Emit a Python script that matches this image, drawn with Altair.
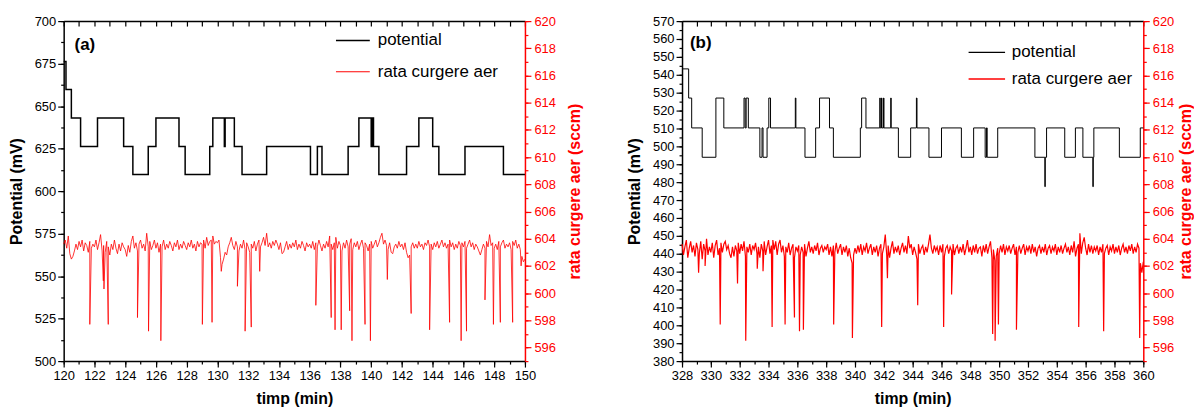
import altair as alt
import pandas as pd

# ---------------- panel (a) ----------------
pot_a_t = [120.0, 120.15, 120.5, 121.1, 122.2, 123.9, 124.5, 125.5, 126.0, 127.5,
           127.9, 129.5, 129.7, 130.45, 130.5, 131.1, 131.6, 133.2, 136.05, 136.5,
           136.8, 138.5, 139.2, 140.0, 140.07, 140.15, 140.5, 142.3, 143.1, 144.0,
           144.4, 146.1, 148.6, 150.0]
pot_a_v = [676.3, 659.7, 643.0, 626.3, 643.0, 626.3, 609.7, 626.3, 643.0, 626.3,
           609.7, 626.3, 643.0, 626.3, 643.0, 626.3, 609.7, 626.3, 609.7, 626.3,
           609.7, 626.3, 643.0, 626.3, 643.0, 626.3, 609.7, 626.3, 643.0, 626.3,
           609.7, 626.3, 609.7, 609.7]

flow_a_t0 = 120.0
flow_a_noise = [
    603.6, 603.9, 603.3, 604.2, 602.9, 602.5, 602.7, 603.1, 603.6, 603.2,
    603.8, 603.4, 603.9, 603.1, 603.7, 603.5, 603.0, 603.8, 603.3, 603.6,
    603.4, 603.9, 603.2, 603.7, 604.3, 603.1, 603.5, 603.0, 603.8, 603.4,
    602.8, 603.6, 603.2, 603.9, 603.3, 602.9, 603.6, 603.1, 603.7, 603.4,
    603.2, 602.7, 603.5, 603.0, 603.8, 604.2, 603.3, 603.7, 603.1, 603.6,
    603.9, 603.3, 603.6, 603.1, 604.4, 603.4, 603.8, 603.2, 603.5, 603.9,
    603.3, 603.7, 603.0, 603.6, 603.4, 603.9, 603.2, 603.6, 603.3, 603.8,
    603.5, 603.1, 603.7, 603.4, 603.9, 603.2, 603.6, 603.3, 603.8, 603.5,
    603.2, 603.7, 603.4, 603.9, 603.3, 603.6, 603.1, 603.8, 603.4, 603.7,
    603.6, 603.9, 603.3, 604.1, 603.5, 603.8, 603.9, 604.2, 603.6, 603.8,
    603.7, 603.9, 602.6, 602.1, 602.5, 603.0, 602.8, 603.4, 603.7, 604.1,
    603.5, 603.2, 603.8, 603.4, 603.1, 603.6, 603.3, 603.9, 603.2, 603.7,
    603.4, 603.0, 603.6, 603.3, 603.8, 603.1, 603.6, 603.9, 603.4, 603.7,
    604.1, 603.5, 604.4, 603.4, 603.7, 603.3, 603.8, 603.5, 603.9, 603.6,
    603.2, 603.7, 602.9, 603.0, 603.4, 603.8, 603.2, 603.6, 603.3, 603.7,
    603.4, 603.9, 603.2, 603.6, 603.3, 603.8, 603.5, 603.1, 603.7, 603.4,
    603.6, 603.3, 603.8, 603.2, 603.7, 603.4, 603.9, 603.5, 603.1, 603.6,
    603.3, 603.8, 603.4, 604.2, 603.6, 603.2, 603.7, 604.1, 603.3, 603.8,
    603.5, 603.1, 603.7, 603.3, 603.9, 603.4, 603.6, 604.0, 603.2, 603.7,
    603.4, 603.8, 603.2, 603.6, 603.9, 603.3, 603.7, 603.5, 603.1, 603.6,
    603.8, 603.3, 603.6, 603.9, 603.4, 603.7, 604.1, 604.4, 603.6, 603.9,
    603.5, 603.2, 603.7, 603.0, 602.9, 603.4, 603.6, 603.3, 603.8, 603.4,
    603.6, 603.2, 603.7, 603.0, 602.6, 602.8, 603.4, 603.7, 603.3, 603.6,
    603.3, 603.8, 603.4, 603.6, 603.2, 603.7, 603.5, 603.9, 603.4, 603.6,
    603.2, 603.7, 603.4, 603.8, 603.3, 603.6, 603.9, 603.4, 603.7, 603.3,
    603.6, 603.9, 603.4, 603.7, 603.2, 603.6, 603.3, 603.8, 603.5, 603.7,
    603.4, 603.8, 603.3, 603.6, 603.9, 603.4, 603.7, 603.2, 603.6, 603.4,
    603.1, 602.8, 603.2, 603.6, 603.3, 603.8, 603.4, 604.3, 603.5, 603.7,
    603.3, 603.6, 603.2, 603.8, 603.4, 603.7, 603.9, 603.3, 603.6, 603.4,
    603.7, 603.2, 603.8, 603.5, 603.9, 603.3, 603.6, 603.2, 602.7, 602.3,
    602.5]
spike_a_t = [121.7, 122.58, 122.62, 122.9, 124.8, 125.52, 126.32, 129.02, 129.65, 130.25,
             131.3, 131.8, 132.2, 132.75, 136.4, 137.4, 137.65, 138.05, 138.6, 138.75,
             139.6, 139.95, 141.05, 142.6, 143.8, 145.1, 145.85, 146.2, 147.4, 147.95,
             148.4, 149.2, 149.75]
spike_a_v = [597.7, 600.9, 600.3, 597.7, 598.2, 597.2, 596.5, 597.7, 597.85, 601.6,
             600.5, 597.2, 597.5, 601.6, 599.1, 598.2, 597.3, 597.3, 598.7, 596.5,
             597.7, 596.5, 601.0, 598.5, 597.3, 597.85, 596.5, 597.2, 599.5, 597.7,
             597.85, 597.85, 602.0]

# legend rows of panel (a), in data units (time / potential)
leg_a_x1 = [137.71, 137.71]
leg_a_x2 = [139.91, 139.91]
leg_a_tx = [140.43, 140.43]
leg_a_y = [688.6, 670.2]

# ---------------- panel (b) ----------------
pot_b_t = [328.0, 328.46, 328.67, 329.4, 330.35, 330.9, 332.3, 332.38, 332.45, 332.6,
           333.4, 333.55, 333.62, 333.9, 334.02, 334.14, 335.86, 335.9, 336.53, 337.27,
           337.54, 338.23, 338.5, 340.37, 340.46, 340.76, 341.72, 341.75, 341.84, 341.87,
           341.98, 342.01, 342.48, 342.51, 343.01, 343.86, 344.26, 344.3, 345.13, 346.0,
           347.38, 348.23, 349.03, 349.12, 349.17, 349.9, 352.48, 353.17, 353.2, 353.29,
           354.55, 355.29, 355.81, 356.5, 356.53, 356.57, 358.34, 359.79, 360.0]
pot_b_v = [543.3, 527.0, 510.3, 493.9, 527.0, 510.3, 527.0, 510.3, 527.0, 510.3,
           493.9, 510.3, 493.9, 510.3, 527.0, 510.3, 527.0, 510.3, 493.9, 510.3,
           527.0, 510.3, 493.9, 510.3, 527.0, 510.3, 527.0, 510.3, 527.0, 510.3,
           527.0, 510.3, 527.0, 510.3, 493.9, 510.3, 527.0, 510.3, 493.9, 510.3,
           493.9, 510.3, 493.9, 510.3, 493.9, 510.3, 493.9, 477.5, 493.9, 510.3,
           493.9, 510.3, 493.9, 477.5, 493.9, 510.3, 493.9, 510.3, 510.3]

flow_b_t0 = 328.0
flow_b_noise = [
    603.6, 602.8, 603.4, 603.9, 602.6, 603.3, 603.8, 603.0, 603.5, 602.7,
    603.7, 603.2, 602.9, 603.8, 602.5, 603.6, 603.1, 604.0, 602.8, 603.4,
    603.0, 603.7, 602.6, 603.5, 603.9, 602.8, 603.3, 603.7, 603.0, 603.6,
    603.8, 603.2, 603.5, 602.9, 602.6, 603.4, 602.7, 603.5, 603.1, 603.7,
    602.9, 603.6, 603.1, 603.8, 602.7, 603.4, 603.0, 603.6, 602.8, 603.5,
    603.2, 603.7, 602.9, 603.4, 602.6, 603.6, 603.1, 603.8, 602.8, 603.4,
    603.9, 602.9, 603.5, 603.9, 603.2, 603.8, 602.8, 603.6, 603.9, 603.0,
    603.5, 602.7, 603.4, 603.0, 603.7, 602.8, 603.3, 603.6, 602.6, 603.4,
    603.1, 603.5, 602.8, 603.4, 603.0, 603.6, 602.7, 603.3, 603.8, 603.0,
    603.4, 602.9, 603.5, 603.1, 603.7, 602.8, 603.3, 603.5, 603.0, 603.4,
    603.2, 603.6, 602.8, 603.4, 602.7, 603.5, 603.0, 603.7, 602.9, 603.3,
    603.6, 602.8, 603.4, 603.0, 603.5, 602.7, 603.3, 602.6, 602.2, 602.8,
    603.3, 602.9, 603.5, 603.0, 603.6, 602.8, 603.4, 603.1, 603.7, 602.9,
    603.3, 603.6, 602.8, 603.4, 603.0, 603.5, 602.7, 603.3, 603.6, 602.9,
    603.4, 604.3, 602.8, 603.5, 602.6, 603.3, 603.8, 602.9, 603.4, 603.0,
    603.5, 602.8, 603.3, 603.7, 603.0, 603.5, 602.9, 604.2, 603.3, 603.6,
    602.8, 603.4, 603.0, 602.5, 603.6, 602.9, 603.3, 603.5, 602.8, 603.4,
    603.0, 603.6, 604.3, 603.3, 602.9, 603.5, 603.1, 603.4, 602.8, 603.5,
    603.0, 603.6, 602.7, 603.3, 603.5, 602.9, 603.4, 603.1, 603.6, 602.8,
    603.3, 603.5, 602.9, 603.4, 603.0, 603.6, 602.8, 603.3, 603.9, 603.0,
    603.4, 602.8, 603.5, 603.0, 603.6, 602.9, 603.3, 603.4, 602.7, 603.5,
    603.0, 603.6, 602.9, 603.4, 603.8, 602.6, 603.2, 602.4, 602.7, 603.3,
    602.9, 603.5, 603.0, 603.6, 602.8, 603.4, 603.1, 603.5, 602.9, 603.3,
    603.6, 602.8, 603.4, 603.0, 603.5, 602.9, 603.3, 603.6, 602.8, 603.4,
    603.1, 603.5, 602.9, 603.6, 603.0, 603.4, 602.7, 603.3, 603.5, 602.9,
    603.4, 603.0, 603.6, 602.8, 603.3, 603.5, 602.9, 603.4, 603.1, 603.6,
    602.8, 603.4, 603.0, 603.5, 602.9, 603.3, 603.6, 603.0, 603.4, 602.8,
    603.5, 603.0, 603.8, 602.7, 603.3, 603.6, 604.4, 602.9, 603.7, 604.1,
    603.3, 602.8, 603.6, 603.0, 603.5, 602.9, 603.4, 603.1, 603.5, 602.8,
    603.4, 603.0, 603.6, 602.9, 603.3, 603.5, 602.8, 603.4, 603.1, 603.6,
    602.9, 603.4, 603.0, 603.5, 602.8, 603.3, 603.6, 603.0, 603.4, 602.9,
    603.5, 603.1, 603.6, 602.9, 603.4, 603.0, 603.6, 603.3, 602.2, 601.5,
    602.3]
spike_b_t = [329.15, 329.6, 330.65, 331.85, 332.42, 333.22, 333.62, 334.25, 335.15, 335.8,
             336.15, 336.42, 338.52, 339.82, 341.85, 342.25, 344.35, 346.15, 346.7, 349.55,
             349.72, 349.95, 351.2, 355.52, 357.25, 359.75]
spike_b_v = [601.5, 602.0, 597.7, 600.7, 596.5, 601.8, 601.6, 597.5, 597.7, 598.2,
             597.2, 597.3, 597.7, 596.7, 597.5, 601.1, 599.1, 597.5, 599.9, 597.0,
             596.5, 597.7, 597.3, 597.5, 597.2, 596.7]

# legend rows of panel (b), in data units (time / potential)
leg_b_x1 = [347.88, 347.88]
leg_b_x2 = [350.41, 350.41]
leg_b_tx = [350.88, 350.88]
leg_b_y = [552.5, 537.7]

SERIES = ["potential", "rata curgere aer"]
FONT = "Liberation Sans"
RED = "#ff0000"
W, H = 464, 342


def axis(**kw):
    base = dict(grid=False, labelFont=FONT, labelFontSize=13, titleFont=FONT,
                titleFontSize=16, titleFontWeight="bold", domainWidth=1.5,
                tickWidth=1.2, labelFlush=False, labelOverlap=False)
    base.update(kw)
    return alt.Axis(**base)


def panel(pot_t, pot_v, t0, noise, spk_t, spk_v, xdom, ydom, ymaj, ymin,
          tag, tag_t, tag_v, lg_x1, lg_x2, lg_tx, lg_y, lg_w, pot_w, flow_w, rtp):
    pot_df = pd.DataFrame({"t": pot_t, "v": pot_v})
    pot_df["series"] = SERIES[0]
    nt = [round(t0 + 0.1 * i, 3) for i in range(len(noise))]
    flow_df = pd.DataFrame({"t": nt + spk_t, "f": noise + spk_v})
    flow_df = flow_df.sort_values("t").reset_index(drop=True)
    flow_df["series"] = SERIES[1]
    leg_df = pd.DataFrame({"series": SERIES, "x1": lg_x1, "x2": lg_x2, "tx": lg_tx,
                           "y": lg_y, "w": lg_w})

    xmaj = list(range(xdom[0], xdom[1] + 1, 2))
    xmin = list(range(xdom[0], xdom[1] + 1, 1))
    fmaj = list(range(596, 621, 2))
    fmin = list(range(595, 621, 1))

    xs = alt.Scale(domain=list(xdom), nice=False, zero=False)
    ps = alt.Scale(domain=list(ydom), nice=False, zero=False)
    fs = alt.Scale(domain=[595, 620], nice=False, zero=False)
    color = alt.Color("series:N",
                      scale=alt.Scale(domain=SERIES, range=["#000000", RED]),
                      legend=None)

    minor_left = alt.Chart(pot_df).mark_line(opacity=0).encode(
        x=alt.X("t:Q", scale=xs, axis=axis(orient="bottom", values=xmin, labels=False,
                                           domain=False, tickSize=3, tickColor="black",
                                           title=None)),
        y=alt.Y("v:Q", scale=ps, axis=axis(orient="left", values=ymin, labels=False,
                                           domain=False, tickSize=3, tickColor="black",
                                           title=None)))
    minor_right = alt.Chart(flow_df).mark_line(opacity=0).encode(
        x=alt.X("t:Q", scale=xs, axis=None),
        y=alt.Y("f:Q", scale=fs, axis=axis(orient="right", values=fmin, labels=False,
                                           domain=False, tickSize=3, tickColor=RED,
                                           title=None)))
    flow_line = alt.Chart(flow_df).mark_line(strokeWidth=flow_w).encode(
        x=alt.X("t:Q", scale=xs, axis=axis(orient="bottom", offset=-H, values=xmin,
                                           labels=False, domain=True, domainColor="black",
                                           tickSize=5, tickColor="black", title=None)),
        y=alt.Y("f:Q", scale=fs, axis=axis(orient="right", values=fmaj, format="d",
                                           tickSize=6, labelPadding=3, tickColor=RED,
                                           domainColor=RED, labelColor=RED,
                                           title="rata curgere aer (sccm)", titleColor=RED,
                                           titleAngle=270, titleBaseline="top",
                                           titlePadding=rtp)),
        color=color)
    pot_line = alt.Chart(pot_df).mark_line(interpolate="step-after", strokeWidth=pot_w).encode(
        x=alt.X("t:Q", scale=xs, axis=axis(orient="bottom", values=xmaj, format="d",
                                           tickSize=6, labelPadding=3, tickColor="black",
                                           domainColor="black", labelColor="black",
                                           title="timp (min)", titleColor="black",
                                           titlePadding=8)),
        y=alt.Y("v:Q", scale=ps, axis=axis(orient="left", values=ymaj, format="d",
                                           tickSize=6, labelPadding=2, tickColor="black",
                                           domainColor="black", labelColor="black",
                                           title="Potential (mV)", titleColor="black",
                                           titlePadding=10)),
        color=color)
    leg_rule = alt.Chart(leg_df).mark_rule().encode(
        x=alt.X("x1:Q", scale=xs, axis=None),
        x2="x2:Q",
        y=alt.Y("y:Q", scale=ps, axis=None),
        color=color,
        strokeWidth=alt.StrokeWidth("w:Q", scale=None, legend=None))
    leg_text = alt.Chart(leg_df).mark_text(align="left", baseline="middle", font=FONT,
                                           fontSize=17, color="black").encode(
        x=alt.X("tx:Q", scale=xs, axis=None),
        y=alt.Y("y:Q", scale=ps, axis=None),
        text="series:N")
    tag_df = pd.DataFrame({"t": [tag_t], "v": [tag_v], "txt": [tag]})
    tag_text = alt.Chart(tag_df).mark_text(align="left", baseline="middle", font=FONT,
                                           fontSize=17, fontWeight="bold",
                                           color="black").encode(
        x=alt.X("t:Q", scale=xs, axis=None),
        y=alt.Y("v:Q", scale=ps, axis=None),
        text="txt:N")

    return alt.layer(minor_left, minor_right, flow_line, pot_line, leg_rule, leg_text,
                     tag_text).resolve_scale(y="independent").resolve_axis(
        x="independent", y="independent").properties(width=W, height=H)


pa = panel(pot_a_t, pot_a_v, flow_a_t0, flow_a_noise, spike_a_t, spike_a_v,
           (120, 150), (500, 700), list(range(500, 701, 25)),
           [500 + 12.5 * i for i in range(17)],
           "(a)", 120.71, 686, leg_a_x1, leg_a_x2, leg_a_tx, leg_a_y, [1.5, 1.0],
           1.5, 0.8, 11)
pb = panel(pot_b_t, pot_b_v, flow_b_t0, flow_b_noise, spike_b_t, spike_b_v,
           (328, 360), (380, 570), list(range(380, 571, 10)),
           list(range(380, 571, 5)),
           "(b)", 328.55, 557.7, leg_b_x1, leg_b_x2, leg_b_tx, leg_b_y, [1.2, 1.5],
           1.0, 1.2, 4)

chart = alt.hconcat(pa, pb, spacing=44).properties(
    padding={"left": 0, "top": 6, "right": 0, "bottom": 0}, background="white"
).configure_view(strokeWidth=0)

chart.save("out.html", embed_options={"renderer": "svg", "actions": False})
